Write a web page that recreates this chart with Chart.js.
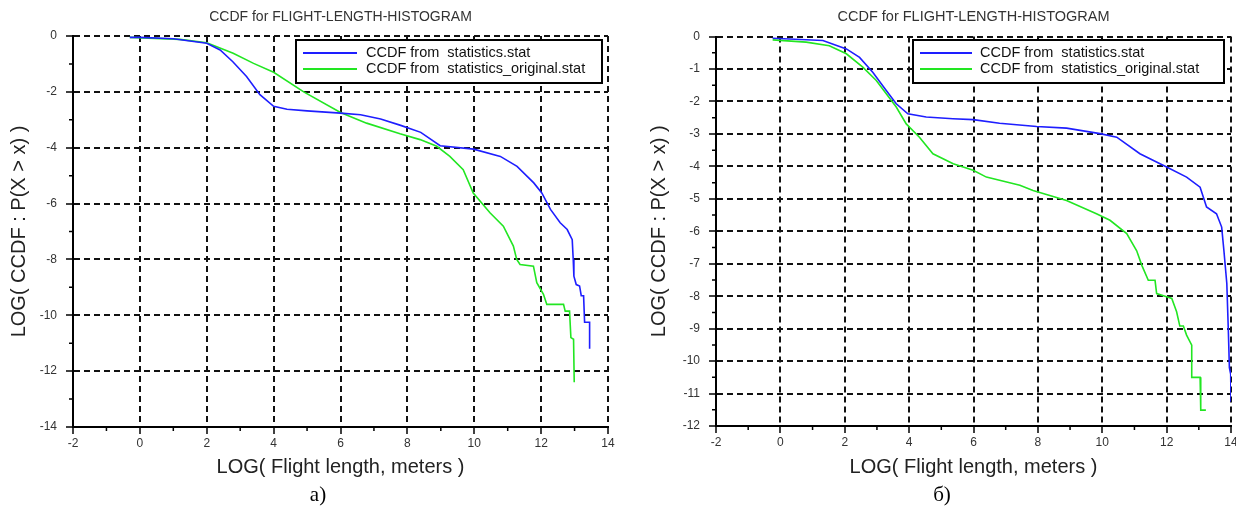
<!DOCTYPE html>
<html>
<head>
<meta charset="utf-8">
<script src="https://cdn.jsdelivr.net/npm/chart.js@4.4.1/dist/chart.umd.min.js"></script>
<style>
  body { margin: 0; background: #fff; width: 1236px; height: 507px; position: relative; overflow: hidden; }
  canvas { position: absolute; top: 0; }
  #leftChart { left: 0; }
  #rightChart { left: 618px; }
  .cap { position: absolute; top: 481px; width: 60px; text-align: center; line-height: 26px;
         font-family: "Liberation Serif", "Times New Roman", serif; font-size: 21px; color: #000; }
</style>
</head>
<body>
<canvas id="leftChart" width="618" height="507"></canvas>
<canvas id="rightChart" width="618" height="507"></canvas>
<div class="cap" style="left:288px">а)</div>
<div class="cap" style="left:912px">б)</div>
<script>
// axis ticks
const xTicks = [-2, 0, 2, 4, 6, 8, 10, 12, 14];
const leftYTicks = [0, -2, -4, -6, -8, -10, -12, -14];
const rightYTicks = [0, -1, -2, -3, -4, -5, -6, -7, -8, -9, -10, -11, -12];

const seriesLabels = ['CCDF from  statistics.stat', 'CCDF from  statistics_original.stat'];

// panel a)
const leftBlueX = [-0.3, 0, 1, 2, 2.4, 2.78, 3.19, 3.59, 4.0, 4.4, 5.0, 6.0, 6.6, 7.2, 7.8, 8.4, 8.98, 9.98, 10.78, 11.28, 11.78, 12.02, 12.28, 12.57, 12.78, 12.93, 12.96, 12.98, 13.05, 13.15, 13.2, 13.27, 13.3, 13.45, 13.45];
const leftBlueY = [-0.05, -0.05, -0.1, -0.26, -0.5, -0.92, -1.45, -2.1, -2.52, -2.62, -2.68, -2.76, -2.82, -2.97, -3.2, -3.45, -3.93, -4.05, -4.31, -4.67, -5.26, -5.62, -6.21, -6.69, -6.93, -7.29, -8.0, -8.6, -8.9, -8.95, -9.3, -9.3, -10.25, -10.25, -11.2];
const leftGreenX = [-0.3, 1.2, 2.0, 2.79, 3.4, 4.0, 4.9, 6.0, 6.78, 7.78, 8.38, 8.88, 9.27, 9.67, 9.97, 10.47, 10.87, 11.17, 11.27, 11.37, 11.77, 11.87, 12.07, 12.17, 12.67, 12.72, 12.85, 12.89, 12.97, 12.99];
const leftGreenY = [-0.05, -0.12, -0.24, -0.62, -0.98, -1.3, -2.0, -2.74, -3.12, -3.5, -3.71, -3.95, -4.31, -4.79, -5.62, -6.33, -6.81, -7.52, -8.0, -8.18, -8.24, -8.83, -9.25, -9.61, -9.61, -9.85, -9.85, -10.8, -10.86, -12.4];

// panel б)
const rightBlueX = [-0.24, 1.32, 2.05, 2.46, 2.87, 3.29, 3.6, 3.96, 4.53, 5.36, 5.99, 6.81, 7.96, 8.89, 9.93, 10.45, 11.17, 12.0, 12.62, 13.04, 13.24, 13.55, 13.71, 13.78, 13.87, 13.92, 13.95, 13.99, 14.0];
const rightBlueY = [-0.05, -0.12, -0.38, -0.64, -1.1, -1.66, -2.07, -2.38, -2.48, -2.53, -2.56, -2.67, -2.77, -2.82, -2.99, -3.1, -3.61, -4.02, -4.33, -4.64, -5.25, -5.46, -5.87, -6.6, -7.61, -9.15, -10.2, -10.4, -11.25];
const rightGreenX = [-0.24, 0.8, 1.52, 2.05, 2.56, 2.98, 3.29, 3.6, 3.91, 4.32, 4.74, 5.37, 5.99, 6.4, 7.44, 7.85, 8.89, 9.82, 10.24, 10.76, 11.07, 11.23, 11.43, 11.64, 11.69, 12.0, 12.16, 12.31, 12.41, 12.52, 12.62, 12.78, 12.78, 13.04, 13.06, 13.22];
const rightGreenY = [-0.1, -0.17, -0.28, -0.53, -0.94, -1.35, -1.76, -2.17, -2.69, -3.1, -3.61, -3.92, -4.12, -4.33, -4.58, -4.74, -5.05, -5.46, -5.66, -6.07, -6.6, -7.05, -7.51, -7.51, -7.92, -8.02, -8.07, -8.48, -8.92, -8.92, -9.2, -9.51, -10.5, -10.5, -11.51, -11.51];

const FONT = '"Liberation Sans", Arial, sans-serif';
const BLUE = '#1e1eff';
const GREEN = '#22e622';
Chart.defaults.font.family = FONT;

const toPoints = (xs, ys) => xs.map((x, i) => ({x: x, y: ys[i]}));

// small ticks half way between the labelled ones
const minorTicks = {
    id: 'minorTicks',
    afterDraw(chart) {
        const ctx = chart.ctx;
        const xs = chart.scales.x, ys = chart.scales.y;
        ctx.save();
        ctx.strokeStyle = '#000';
        ctx.lineWidth = 1.5;
        ctx.beginPath();
        for (let i = 0; i < xs.ticks.length - 1; i++) {
            const px = xs.getPixelForValue((xs.ticks[i].value + xs.ticks[i + 1].value) / 2);
            ctx.moveTo(px, xs.top);
            ctx.lineTo(px, xs.top + 4);
        }
        for (let i = 0; i < ys.ticks.length - 1; i++) {
            const py = ys.getPixelForValue((ys.ticks[i].value + ys.ticks[i + 1].value) / 2);
            ctx.moveTo(ys.right, py);
            ctx.lineTo(ys.right - 4, py);
        }
        ctx.stroke();
        ctx.restore();
    }
};

// framed legend inside the plot
const boxLegend = {
    id: 'boxLegend',
    afterDatasetsDraw(chart, args, o) {
        const ctx = chart.ctx;
        ctx.save();
        ctx.fillStyle = '#fff';
        ctx.fillRect(o.x, o.y, o.w, o.h);
        ctx.lineWidth = 2;
        ctx.strokeStyle = '#000';
        ctx.strokeRect(o.x, o.y, o.w, o.h);
        ctx.font = '14.5px ' + FONT;
        ctx.textBaseline = 'middle';
        chart.data.datasets.forEach((ds, i) => {
            const y = o.y + o.firstRow + i * o.rowGap;
            ctx.strokeStyle = ds.borderColor;
            ctx.lineWidth = 2;
            ctx.beginPath();
            ctx.moveTo(o.x + o.lineStart, y);
            ctx.lineTo(o.x + o.lineEnd, y);
            ctx.stroke();
            ctx.fillStyle = '#111';
            ctx.fillText(ds.label, o.x + o.textStart, y);
        });
        ctx.restore();
    }
};

function makeChart(id, o) {
    const grid = { color: '#111', lineWidth: 2, tickLength: 7, tickColor: '#000', tickWidth: 1.5 };
    const border = { display: true, color: '#000', width: 2, dash: [6, 4] };
    const tickFont = { size: 12 };
    return new Chart(document.getElementById(id), {
        type: 'line',
        data: {
            datasets: [
                { label: seriesLabels[0], data: toPoints(o.blueX, o.blueY), borderColor: BLUE, borderWidth: 1.6, pointRadius: 0, tension: 0 },
                { label: seriesLabels[1], data: toPoints(o.greenX, o.greenY), borderColor: GREEN, borderWidth: 1.6, pointRadius: 0, tension: 0 }
            ]
        },
        options: {
            responsive: false,
            animation: false,
            layout: { padding: { left: 0, right: o.padRight, top: 0, bottom: 0 } },
            plugins: {
                legend: { display: false },
                tooltip: { enabled: false },
                title: {
                    display: true,
                    text: 'CCDF for FLIGHT-LENGTH-HISTOGRAM',
                    fullSize: false,
                    color: '#333',
                    font: { size: o.titleSize, weight: 'normal' },
                    padding: { top: 8.6, bottom: 10.6 }
                },
                boxLegend: o.legend
            },
            scales: {
                x: {
                    type: 'linear',
                    min: Math.min(...xTicks),
                    max: Math.max(...xTicks),
                    afterBuildTicks: s => { s.ticks = xTicks.map(v => ({ value: v })); },
                    afterFit: s => { s.height = o.xAxisH; s.paddingLeft = 0; s.paddingRight = 0; },
                    grid: grid,
                    border: border,
                    ticks: { color: '#333', font: tickFont, padding: 2 },
                    title: { display: true, text: 'LOG( Flight length, meters )', color: '#222', font: { size: 20 }, padding: { top: 0, bottom: 28 } }
                },
                y: {
                    type: 'linear',
                    min: Math.min(...o.yTicks),
                    max: Math.max(...o.yTicks),
                    afterBuildTicks: s => { s.ticks = o.yTicks.slice().reverse().map(v => ({ value: v })); },
                    afterFit: s => { s.width = o.yAxisW; s.paddingTop = 0; s.paddingBottom = 0; },
                    grid: grid,
                    border: border,
                    ticks: { color: '#333', font: tickFont, padding: 9 },
                    title: { display: true, text: 'LOG( CCDF : P(X > x) )', color: '#222', font: { size: 20 }, padding: { top: o.yTitlePad, bottom: 0 } }
                }
            }
        },
        plugins: [minorTicks, boxLegend]
    });
}

makeChart('leftChart', {
    blueX: leftBlueX, blueY: leftBlueY, greenX: leftGreenX, greenY: leftGreenY,
    yTicks: leftYTicks, padRight: 10, xAxisH: 80, yAxisW: 73, yTitlePad: 7, titleSize: 14,
    legend: { x: 296, y: 40, w: 306, h: 43, firstRow: 13, rowGap: 16, lineStart: 7, lineEnd: 61, textStart: 70 }
});

makeChart('rightChart', {
    blueX: rightBlueX, blueY: rightBlueY, greenX: rightGreenX, greenY: rightGreenY,
    yTicks: rightYTicks, padRight: 5, xAxisH: 81, yAxisW: 98, yTitlePad: 29, titleSize: 14.5,
    legend: { x: 295, y: 40, w: 311, h: 43, firstRow: 13, rowGap: 16, lineStart: 7, lineEnd: 59, textStart: 67 }
});
</script>
</body>
</html>
